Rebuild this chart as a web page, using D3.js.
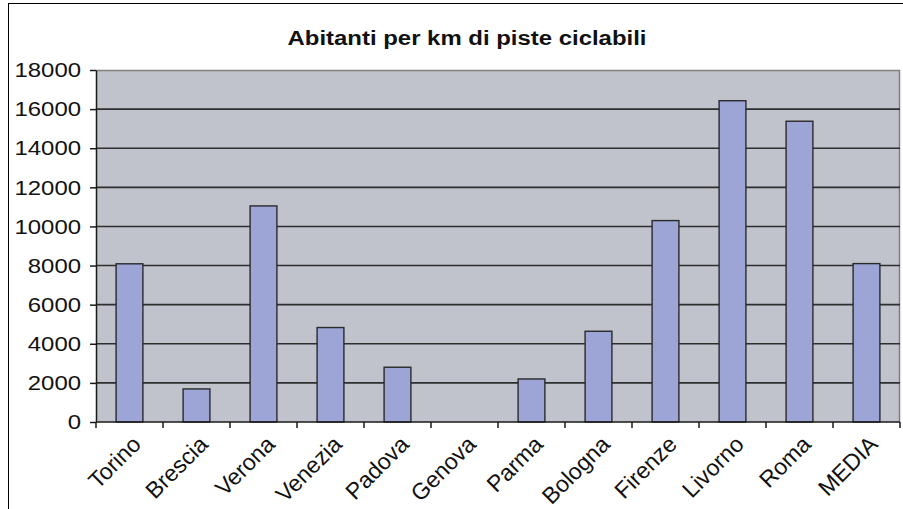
<!DOCTYPE html>
<html>
<head>
<meta charset="utf-8">
<script src="https://cdn.jsdelivr.net/npm/d3@7"></script>
<style>
  html, body { margin: 0; padding: 0; background: #fff; }
  svg { display: block; font-family: "Liberation Sans", Arial, sans-serif; }
</style>
</head>
<body>
<svg id="chart" width="903" height="509"></svg>
<script>
// Abitanti per km di piste ciclabili, per città
const cities = ["Torino", "Brescia", "Verona", "Venezia", "Padova", "Genova",
                "Parma", "Bologna", "Firenze", "Livorno", "Roma", "MEDIA"];
const residentsPerKm = [8090, 1690, 11050, 4830, 2800, 0,
                        2200, 4640, 10300, 16430, 15380, 8100];
const yTicks = [0, 2000, 4000, 6000, 8000, 10000, 12000, 14000, 16000, 18000];
const chartTitle = "Abitanti per km di piste ciclabili";

// horizontal text widening
const stretch = 1.14;

const svg = d3.select("#chart");
const plot = { left: 96, top: 70, right: 900, bottom: 422 };

// outer chart frame (extends past the right and bottom edges)
svg.append("rect")
  .attr("x", 8.5).attr("y", 3.5)
  .attr("width", 1000).attr("height", 1000)
  .attr("fill", "#fff").attr("stroke", "#000").attr("stroke-width", 1);

const x = d3.scaleBand()
  .domain(cities)
  .range([plot.left, plot.right])
  .paddingInner(0.6).paddingOuter(0.3);

const xBoundary = d3.scaleLinear()
  .domain([0, cities.length])
  .range([plot.left, plot.right]);

const y = d3.scaleLinear()
  .domain([0, 18000])
  .range([plot.bottom, plot.top]);

// plot background
svg.append("rect")
  .attr("x", plot.left).attr("y", plot.top)
  .attr("width", plot.right - plot.left).attr("height", plot.bottom - plot.top)
  .attr("fill", "#c0c3cb");

// plot frame top/right
svg.append("path")
  .attr("d", `M${plot.left},${plot.top + 0.5}H${plot.right - 0.5}V${plot.bottom}`)
  .attr("fill", "none").attr("stroke", "#7f7f7f").attr("stroke-width", 1.5);

// horizontal gridlines
svg.append("g")
  .selectAll("line")
  .data(yTicks.filter(d => d > 0 && d < 18000))
  .join("line")
  .attr("x1", plot.left).attr("x2", plot.right)
  .attr("y1", d => y(d)).attr("y2", d => y(d))
  .attr("stroke", "#2e2e2e").attr("stroke-width", 1.6);

// bars
svg.append("g")
  .selectAll("rect")
  .data(cities.map((c, i) => ({ city: c, value: residentsPerKm[i] })).filter(d => d.value > 0))
  .join("rect")
  .attr("x", d => x(d.city))
  .attr("y", d => y(d.value))
  .attr("width", x.bandwidth())
  .attr("height", d => y(0) - y(d.value))
  .attr("fill", "#9ca5d5")
  .attr("stroke", "#2a2a2a").attr("stroke-width", 1.4);

// y axis
const yAxis = d3.axisLeft(y)
  .tickValues(yTicks)
  .tickFormat(d3.format("d"))
  .tickSize(6).tickSizeOuter(0).tickPadding(8);

const gy = svg.append("g")
  .attr("transform", `translate(${plot.left},0)`)
  .call(yAxis);
gy.select(".domain").attr("stroke", "#1a1a1a").attr("stroke-width", 1.5);
gy.selectAll(".tick line").attr("stroke", "#1a1a1a").attr("stroke-width", 1.5);
gy.selectAll(".tick text")
  .attr("x", -15 / stretch)
  .attr("transform", `scale(${stretch},1)`)
  .attr("font-size", 21).attr("fill", "#111")
  .attr("font-family", "Liberation Sans, Arial, sans-serif");

// x axis: ticks at category boundaries
const gx = svg.append("g");
gx.append("line")
  .attr("x1", plot.left).attr("x2", plot.right)
  .attr("y1", plot.bottom).attr("y2", plot.bottom)
  .attr("stroke", "#1a1a1a").attr("stroke-width", 1.5);
gx.selectAll("line.tick")
  .data(d3.range(cities.length + 1))
  .join("line")
  .attr("class", "tick")
  .attr("x1", d => xBoundary(d)).attr("x2", d => xBoundary(d))
  .attr("y1", plot.bottom).attr("y2", plot.bottom + 6)
  .attr("stroke", "#1a1a1a").attr("stroke-width", 1.5);

// rotated category labels
gx.selectAll("text")
  .data(cities)
  .join("text")
  .attr("transform", d => `translate(${x(d) + x.bandwidth() / 2 + 1},${plot.bottom + 12}) rotate(-45)`)
  .attr("text-anchor", "end")
  .attr("dy", "0.72em")
  .attr("font-size", 23).attr("fill", "#111")
  .text(d => d);

// title
svg.append("text")
  .attr("transform", `translate(467,45) scale(${stretch},1)`)
  .attr("text-anchor", "middle")
  .attr("font-size", 21).attr("font-weight", "bold").attr("fill", "#111")
  .text(chartTitle);
</script>
</body>
</html>
